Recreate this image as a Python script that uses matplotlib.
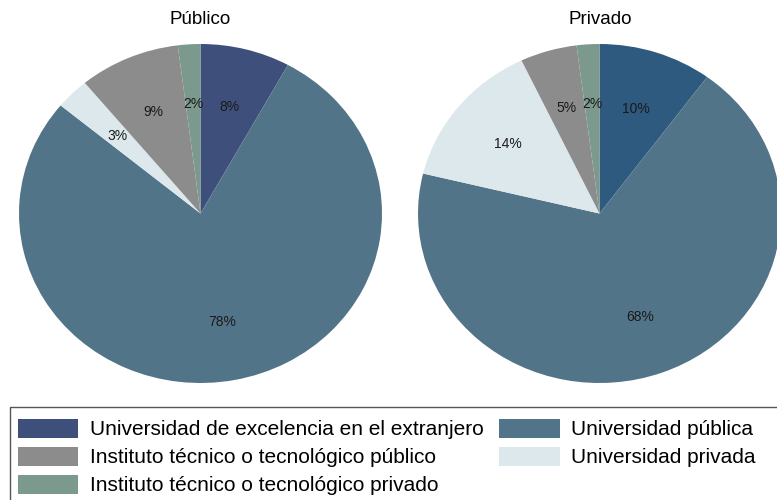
import matplotlib

matplotlib.use("Agg")

import matplotlib.pyplot as plt
from matplotlib.patches import Rectangle

plt.rcParams["font.family"] = ["Liberation Sans", "DejaVu Sans"]

categories = [
    "Universidad de excelencia en el extranjero",
    "Universidad pública",
    "Universidad privada",
    "Instituto técnico o tecnológico público",
    "Instituto técnico o tecnológico privado",
]
publico = [8, 78, 3, 9, 2]
privado = [10, 68, 14, 5, 2]
titles = ["Público", "Privado"]

colors_publico = ["#3e4f7b", "#527489", "#dde8ed", "#8c8c8c", "#7b9a8d"]
colors_privado = ["#2f5a80", "#527489", "#dde8ed", "#8c8c8c", "#7b9a8d"]


def draw_pie(ax, values, colors):
    wedges, texts = ax.pie(
        values,
        colors=colors,
        startangle=90,
        counterclock=False,
        labels=[f"{v}%" for v in values],
        labeldistance=0.65,
        radius=1.0,
        wedgeprops={"linewidth": 0},
        textprops={"fontsize": 10, "color": "#1a1a1a", "ha": "center", "va": "center"},
    )
    ax.set_aspect("auto")
    ax.set_xlim(-1, 1)
    ax.set_ylim(-1, 1)
    ax.axis("off")
    return wedges


fig = plt.figure(figsize=(7.77, 5.0), dpi=100)
ax1 = fig.add_axes([19 / 777, 117 / 500, 363 / 777, 339 / 500])
ax2 = fig.add_axes([418 / 777, 117 / 500, 363 / 777, 339 / 500])

w1 = draw_pie(ax1, publico, colors_publico)
w2 = draw_pie(ax2, privado, colors_privado)

fig.text(200 / 777, 1 - 19 / 500, titles[0], ha="center", va="center", fontsize=13.5)
fig.text(600 / 777, 1 - 19 / 500, titles[1], ha="center", va="center", fontsize=13.5)

# legend frame runs off the figure edge like in the source
fig.patches.append(Rectangle((10 / 777, -0.05), 1.0, (500 - 407) / 500 + 0.05,
                             transform=fig.transFigure, facecolor="white",
                             edgecolor="#555555", linewidth=1.0, zorder=0))

order = [0, 3, 4, 1, 2]
fig.legend(
    [w1[i] for i in order],
    [categories[i] for i in order],
    ncol=2,
    loc="upper left",
    bbox_to_anchor=(18 / 777, 1 - 419 / 500),
    frameon=False,
    fontsize=15,
    handlelength=2.9,
    handleheight=1.0,
    handletextpad=0.55,
    columnspacing=0.75,
    labelspacing=0.36,
    borderpad=0,
    borderaxespad=0,
)

fig.savefig("out.png", dpi=100)
